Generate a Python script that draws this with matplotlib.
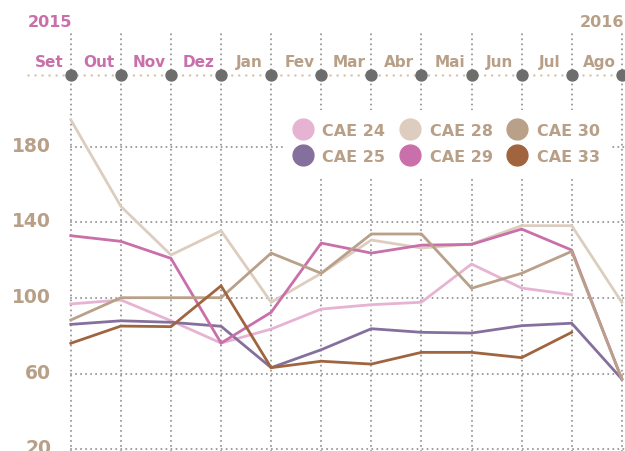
import numpy as np
import matplotlib.pyplot as plt
from matplotlib.lines import Line2D

# months shown on the top axis, with the year each belongs to
months = ['Set', 'Out', 'Nov', 'Dez', 'Jan', 'Fev', 'Mar', 'Abr', 'Mai', 'Jun', 'Jul', 'Ago']
month_year = [0, 0, 0, 0, 1, 1, 1, 1, 1, 1, 1, 1]
years = ['2015', '2016']
yticks = [20, 60, 100, 140, 180]

nan = np.nan
cae24 = [96.9, 99.0, 88.0, 76.2, 83.6, 94.2, 96.5, 97.8, 118.0, 105.3, 101.8, nan]
cae25 = [86.1, 88.0, 87.2, 85.1, 63.2, 72.7, 83.8, 81.9, 81.5, 85.4, 86.7, 57.2]
cae28 = [194.3, 148.5, 122.8, 135.6, 97.8, 113.1, 130.7, 126.5, 128.6, 138.3, 138.3, 97.8]
cae29 = [133.0, 130.0, 121.0, 76.2, 92.5, 129.1, 123.8, 128.0, 128.4, 136.5, 125.4, 57.2]
cae30 = [88.4, 100.2, 100.2, 100.2, 123.8, 113.1, 133.9, 133.9, 105.2, 113.1, 124.7, 57.2]
cae33 = [76.1, 85.2, 84.9, 106.5, 63.2, 66.6, 65.1, 71.3, 71.3, 68.5, 81.9, nan]

names = ['CAE 24', 'CAE 25', 'CAE 28', 'CAE 29', 'CAE 30', 'CAE 33']
series = [cae24, cae25, cae28, cae29, cae30, cae33]
colors = ['#e6b4d2', '#85709d', '#dccdbf', '#c96fa9', '#b9a088', '#a0643f']

tan = '#b89f87'
pink = '#c96fa9'
grid_c = '#999999'

fig = plt.figure(figsize=(6.25, 4.52), dpi=100)
ax = fig.add_axes([0, 0, 1, 1])
ax.set_xlim(-1.4134, 11.064)
ax.set_ylim(19.13, 258.18)
ax.axis('off')

x = np.arange(len(months))
dot = (0, (0.01, 2.4))

# dotted grid
for xi in x:
    ax.plot([xi, xi], [19.13, 241.3], color=grid_c, lw=1.5, ls=dot,
            dash_capstyle='round', zorder=1)
for v in yticks:
    ax.plot([0, 11.06], [v, v], color=grid_c, lw=1.5, ls=dot,
            dash_capstyle='round', zorder=1)
    ax.text(-0.395, v - 2.0, str(v), ha='right', va='baseline', color=tan,
            fontsize=13.5, fontweight='bold')

# top month axis
ax.plot([-0.85, 11.07], [218.1, 218.1], color='#d9c2ab', lw=1.8,
        ls=(0, (0.01, 2.8)), dash_capstyle='round', zorder=2)
ax.plot(x, np.full(len(x), 218.1), ls='none', marker='o', ms=7.9,
        color='#6d6d6d', zorder=3)
for i, m in enumerate(months):
    ax.text(i - 0.44, 222.6, m, ha='center', va='baseline', fontsize=11,
            fontweight='bold', color=pink if month_year[i] == 0 else tan)
ax.text(-0.42, 243.9, years[0], ha='center', va='baseline', fontsize=11.5,
        fontweight='bold', color=pink)
ax.text(11 - 0.395, 243.9, years[1], ha='center', va='baseline', fontsize=11.5,
        fontweight='bold', color=tan)

for s, c in zip(series, colors):
    ax.plot(x, s, color=c, lw=2.0, zorder=4, solid_joinstyle='miter')

handles = [Line2D([], [], ls='none', marker='o', ms=15, color=c) for c in colors]
leg = ax.legend(handles, names, ncol=3, loc='center',
                bbox_to_anchor=(0.716, 0.681), frameon=True, fancybox=False,
                facecolor='white', edgecolor='none', framealpha=1,
                prop=dict(weight='bold', size=11.5), labelcolor=tan,
                handlelength=1.0, handletextpad=0.7, columnspacing=1.06,
                labelspacing=0.7, borderpad=0.8)
leg.set_zorder(5)

fig.savefig('out.png', dpi=100)
